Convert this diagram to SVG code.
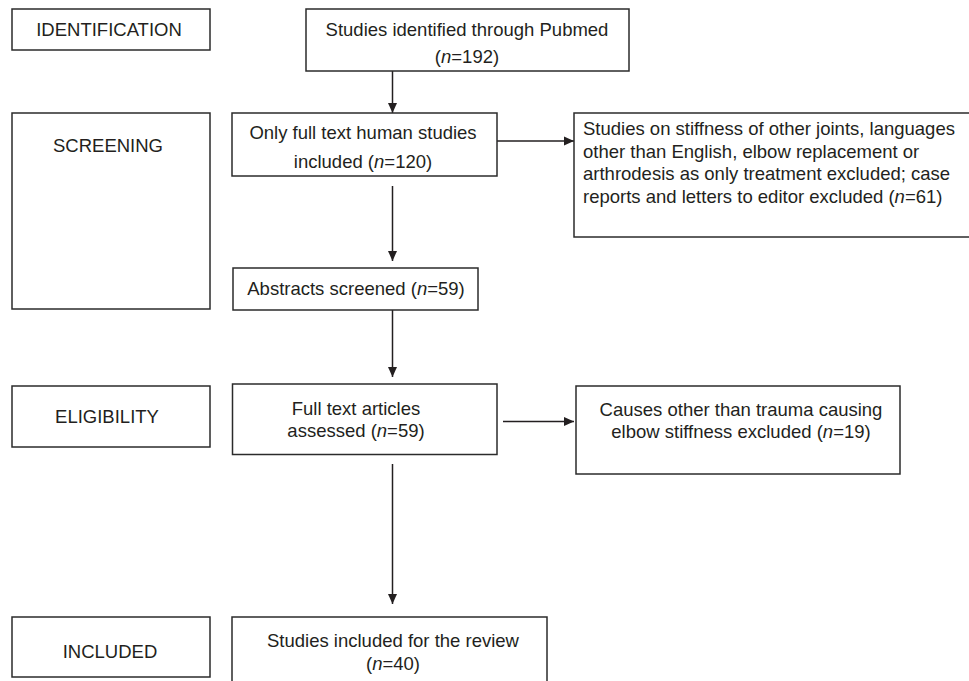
<svg xmlns="http://www.w3.org/2000/svg" width="969" height="681" viewBox="0 0 969 681">
<style>
  .box { fill: #ffffff; stroke: #2b2b2b; stroke-width: 1.5; }
  .t { font-family: "Liberation Sans", Arial, sans-serif; font-size: 18.5px; fill: #231f20; }
  .c { text-anchor: middle; }
  .i { font-style: italic; }
  .ln { stroke: #231f20; stroke-width: 1.5; fill: none; }
</style>
<defs>
  <marker id="ah" viewBox="0 0 10 10" refX="10" refY="5" markerWidth="10" markerHeight="10" markerUnits="userSpaceOnUse" orient="auto">
    <path d="M0,0.5 L10,5 L0,9.5 Z" fill="#231f20"/>
  </marker>
</defs>
<rect width="969" height="681" fill="#ffffff"/>

<g id="connectors">
  <line class="ln" x1="392.5" y1="71" x2="392.5" y2="113" marker-end="url(#ah)"/>
  <line class="ln" x1="497" y1="141" x2="574" y2="141" marker-end="url(#ah)"/>
  <line class="ln" x1="392.5" y1="186" x2="392.5" y2="261" marker-end="url(#ah)"/>
  <line class="ln" x1="392.5" y1="310" x2="392.5" y2="377" marker-end="url(#ah)"/>
  <line class="ln" x1="503" y1="421.5" x2="574" y2="421.5" marker-end="url(#ah)"/>
  <line class="ln" x1="392.5" y1="464" x2="392.5" y2="604" marker-end="url(#ah)"/>
</g>

<g id="identification">
  <rect class="box" x="12" y="9" width="198" height="41"/>
  <text class="t c" x="109" y="36">IDENTIFICATION</text>
</g>
<g id="screening">
  <rect class="box" x="12" y="113" width="198" height="196"/>
  <text class="t c" x="108" y="152">SCREENING</text>
</g>
<g id="eligibility">
  <rect class="box" x="12" y="386" width="198" height="61"/>
  <text class="t c" x="107" y="423">ELIGIBILITY</text>
</g>
<g id="included">
  <rect class="box" x="12" y="617" width="198" height="60"/>
  <text class="t c" x="110" y="658">INCLUDED</text>
</g>

<g id="pubmed">
  <rect class="box" x="306" y="9" width="323" height="62"/>
  <text class="t c" x="467" y="36">Studies identified through Pubmed</text>
  <text class="t c" x="467" y="63">(<tspan class="i">n</tspan>=192)</text>
</g>
<g id="fulltext-human">
  <rect class="box" x="232" y="113" width="265" height="63"/>
  <text class="t c" x="363" y="139">Only full text human studies</text>
  <text class="t c" x="363" y="168">included (<tspan class="i">n</tspan>=120)</text>
</g>
<g id="excluded-61">
  <rect class="box" x="574" y="113" width="400" height="124"/>
  <text class="t" x="583" y="135">Studies on stiffness of other joints, languages</text>
  <text class="t" x="583" y="157.5">other than English, elbow replacement or</text>
  <text class="t" x="583" y="180">arthrodesis as only treatment excluded; case</text>
  <text class="t" x="583" y="202.5">reports and letters to editor excluded (<tspan class="i">n</tspan>=61)</text>
</g>
<g id="abstracts">
  <rect class="box" x="233" y="268" width="245" height="42"/>
  <text class="t c" x="356" y="295">Abstracts screened (<tspan class="i">n</tspan>=59)</text>
</g>
<g id="fulltext-assessed">
  <rect class="box" x="232.5" y="384" width="264.5" height="70.5"/>
  <text class="t c" x="356" y="415">Full text articles</text>
  <text class="t c" x="356" y="437">assessed (<tspan class="i">n</tspan>=59)</text>
</g>
<g id="excluded-19">
  <rect class="box" x="576" y="386" width="324" height="88"/>
  <text class="t c" x="741" y="416">Causes other than trauma causing</text>
  <text class="t c" x="741" y="438">elbow stiffness excluded (<tspan class="i">n</tspan>=19)</text>
</g>
<g id="review">
  <rect class="box" x="232" y="617" width="315" height="80"/>
  <text class="t c" x="393" y="647">Studies included for the review</text>
  <text class="t c" x="393" y="670">(<tspan class="i">n</tspan>=40)</text>
</g>
</svg>
